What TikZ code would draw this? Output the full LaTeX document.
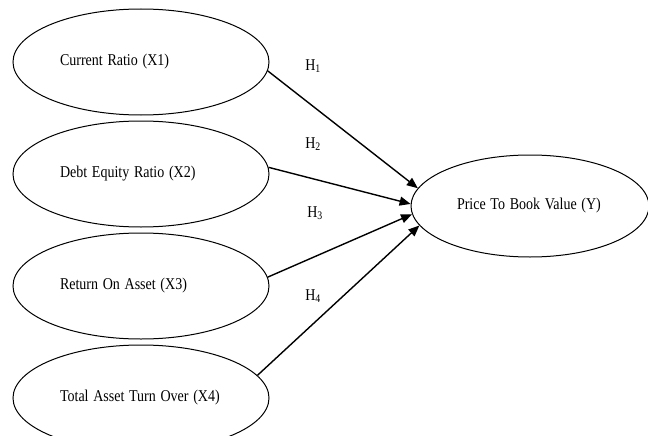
\documentclass[tikz,border=0pt]{standalone}
\usepackage{graphicx}
\usepackage{fontspec}
\setmainfont{Liberation Serif}
\usetikzlibrary{shapes.geometric,arrows.meta,positioning}

% narrow text, as in the original figure
\newcommand{\narrowtext}[1]{\scalebox{0.85}[1]{#1}}

\begin{document}
\begin{tikzpicture}[
    x=1pt, y=-1pt,
    node distance=5pt,
    var/.style={ellipse, draw, line width=1pt, minimum width=256pt, minimum height=106pt,
        text width=162pt, align=left, font=\fontsize{16.5}{18}\selectfont},
    hyp/.style={font=\fontsize{16.5}{18}\selectfont},
    arrow/.style={-{Triangle[length=11pt,width=9pt]}, line width=1.4pt}
]
    \useasboundingbox (0,0) rectangle (648,436);

    % Independent variables
    \node[var] (cr) at (141,62) {\narrowtext{Current Ratio (X1)}};
    \node[var, below=of cr] (der) {\narrowtext{Debt Equity Ratio (X2)}};
    \node[var, below=of der] (roa) {\narrowtext{Return On Asset (X3)}};
    \node[var, below=of roa] (tato) {\narrowtext{Total Asset Turn Over (X4)}};

    % Dependent variable
    \node[var, minimum width=238pt, minimum height=102pt, text width=146pt,
        right=141pt of der, yshift=-32pt] (pbv) {\narrowtext{Price To Book Value (Y)}};

    % Hypotheses
    \node[hyp] (h1) at (313,66) {\narrowtext{H\textsubscript{1}}};
    \node[hyp] (h2) at (313,144) {\narrowtext{H\textsubscript{2}}};
    \node[hyp] (h3) at (315,213) {\narrowtext{H\textsubscript{3}}};
    \node[hyp] (h4) at (313,296) {\narrowtext{H\textsubscript{4}}};

    % Arrows
    \draw[arrow] (cr.-4) -- (pbv.171);
    \draw[arrow] (der.3) -- (pbv.179);
    \draw[arrow] (roa.4) -- (pbv.184);
    \draw[arrow] (tato.11) -- (pbv.190);
\end{tikzpicture}
\end{document}
